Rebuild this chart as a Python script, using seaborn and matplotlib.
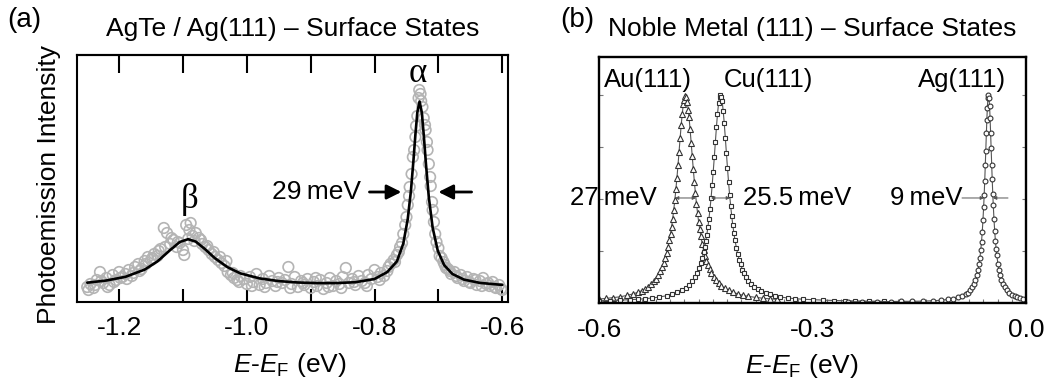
import matplotlib
matplotlib.use("Agg")
import matplotlib.pyplot as plt
from matplotlib.ticker import MultipleLocator
import seaborn as sns

# ---------------- Panel (a): AgTe / Ag(111) ----------------
a_energy = [
    -1.250, -1.245, -1.240, -1.235, -1.230, -1.225, -1.220, -1.215, -1.210, -1.205,
    -1.200, -1.195, -1.190, -1.185, -1.180, -1.175, -1.170, -1.165, -1.160, -1.155,
    -1.150, -1.145, -1.140, -1.135, -1.130, -1.125, -1.120, -1.115, -1.110, -1.105,
    -1.100, -1.095, -1.090, -1.085, -1.080, -1.075, -1.070, -1.065, -1.060, -1.055,
    -1.050, -1.045, -1.040, -1.035, -1.030, -1.025, -1.020, -1.015, -1.010, -1.005,
    -1.000, -0.995, -0.990, -0.985, -0.980, -0.975, -0.970, -0.965, -0.960, -0.955,
    -0.950, -0.945, -0.940, -0.935, -0.930, -0.925, -0.920, -0.915, -0.910, -0.905,
    -0.900, -0.895, -0.890, -0.885, -0.880, -0.875, -0.870, -0.865, -0.860, -0.855,
    -0.850, -0.845, -0.840, -0.835, -0.830, -0.825, -0.820, -0.815, -0.810, -0.805,
    -0.800, -0.795, -0.790, -0.785, -0.780, -0.775, -0.770, -0.765, -0.760, -0.755,
    -0.750, -0.745, -0.740, -0.735, -0.730, -0.725, -0.720, -0.715, -0.710, -0.705,
    -0.700, -0.695, -0.690, -0.685, -0.680, -0.675, -0.670, -0.665, -0.660, -0.655,
    -0.650, -0.645, -0.640, -0.635, -0.630, -0.625, -0.620, -0.615, -0.610, -0.605,
    -0.600,
    -1.248, -1.238, -1.228, -1.218, -1.208, -1.198, -1.188, -1.178, -1.168, -1.158,
    -1.148, -1.138, -1.128, -1.118, -1.108, -1.098, -1.092, -1.088, -1.082, -1.072,
    -1.062, -1.052, -1.042, -1.032, -1.022, -1.012, -0.992, -0.972, -0.952, -0.932,
    -0.912, -0.892, -0.872, -0.852, -0.832, -0.812, -0.792, -0.778, -0.768, -0.762,
    -0.757, -0.752, -0.748, -0.746, -0.742, -0.738, -0.736, -0.733, -0.731, -0.728,
    -0.727, -0.723, -0.721, -0.718, -0.717, -0.713, -0.712, -0.709, -0.707, -0.703,
    -0.698, -0.692, -0.688, -0.682, -0.672, -0.662, -0.652, -0.642, -0.632, -0.622,
    -0.612, -0.602,
]
a_intensity = [
    15, 18, 14, 22, 30, 19, 24, 17, 27, 22,
    30, 25, 28, 32, 26, 35, 38, 33, 41, 45,
    42, 48, 46, 53, 74, 69, 58, 62, 55, 59,
    52, 77, 72, 66, 69, 64, 58, 55, 52, 48,
    45, 42, 39, 36, 30, 27, 24, 22, 26, 23,
    18, 25, 20, 28, 17, 23, 19, 26, 21, 16,
    24, 19, 22, 35, 18, 25, 15, 21, 17, 23,
    14, 20, 16, 22, 13, 19, 24, 16, 21, 18,
    25, 34, 19, 23, 17, 26, 21, 19, 27, 23,
    32, 25, 29, 26, 31, 38, 42, 47, 55, 68,
    85, 115, 145, 176, 212, 195, 172, 138, 100, 68,
    54, 44, 37, 33, 28, 30, 24, 27, 21, 25,
    19, 23, 17, 21, 24, 18, 16, 20, 14, 17,
    12,
    12, 17, 21, 15, 20, 24, 23, 29, 31, 38,
    44, 51, 55, 64, 60, 47, 63, 79, 61, 62,
    56, 50, 45, 41, 29, 20, 16, 15, 20, 14,
    19, 24, 15, 14, 20, 16, 22, 35, 40, 50,
    59, 77, 97, 106, 128, 152, 165, 186, 204, 208,
    201, 184, 177, 160, 152, 125, 116, 92, 80, 60,
    46, 40, 34, 31, 26, 23, 20, 22, 16, 19,
    15, 13,
]
a_fit_energy = [
    -1.25, -1.22, -1.19, -1.16, -1.14, -1.12, -1.105, -1.092, -1.08, -1.065,
    -1.05, -1.03, -1.01, -0.98, -0.95, -0.92, -0.89, -0.86, -0.83, -0.80,
    -0.78, -0.765, -0.755, -0.748, -0.743, -0.739, -0.736, -0.733, -0.7295, -0.726,
    -0.723, -0.7195, -0.715, -0.709, -0.701, -0.691, -0.678, -0.66, -0.635, -0.60,
]
a_fit_intensity = [
    19.3, 21.5, 25.2, 32.4, 40.6, 52.0, 60.0, 62.8, 60.4, 52.6,
    43.8, 34.7, 28.6, 23.6, 20.9, 19.5, 18.9, 18.9, 19.8, 23.0,
    30.0, 40.6, 58.4, 83.0, 111.4, 142.2, 167.6, 189.6, 200.5, 189.6,
    167.5, 138.0, 104.7, 74.3, 51.3, 36.9, 28.0, 22.4, 19.1, 17.1,
]
a_xticks = [-1.2, -1.0, -0.8, -0.6]
a_xticklabels = ["-1.2", "-1.0", "-0.8", "-0.6"]
a_alltick = [-1.2, -1.1, -1.0, -0.9, -0.8, -0.7, -0.6]

# ---------------- Panel (b): noble metal (111) ----------------
au_energy = [
    -0.600, -0.590, -0.580, -0.570, -0.560, -0.552, -0.545, -0.540, -0.535, -0.531,
    -0.527, -0.523, -0.520, -0.517, -0.514, -0.511, -0.509, -0.507, -0.505, -0.503,
    -0.501, -0.4995, -0.498, -0.4965, -0.495, -0.4935, -0.492, -0.4905, -0.489, -0.4875,
    -0.486, -0.4845, -0.483, -0.4815, -0.4805, -0.479, -0.4775, -0.476, -0.4745, -0.4735,
    -0.472, -0.4705, -0.469, -0.4675, -0.466, -0.4645, -0.463, -0.4615, -0.460, -0.4585,
    -0.457, -0.455, -0.453, -0.451, -0.449, -0.447, -0.4445, -0.442, -0.439, -0.436,
    -0.432, -0.428, -0.423, -0.418, -0.412, -0.405, -0.398, -0.390, -0.380, -0.370,
    -0.360, -0.350,
]
au_intensity = [
    0.019, 0.022, 0.026, 0.030, 0.037, 0.044, 0.052, 0.059, 0.068, 0.078,
    0.089, 0.104, 0.117, 0.133, 0.152, 0.175, 0.193, 0.215, 0.241, 0.270,
    0.304, 0.334, 0.366, 0.404, 0.447, 0.493, 0.546, 0.602, 0.663, 0.728,
    0.793, 0.856, 0.911, 0.956, 0.977, 0.994, 0.990, 0.967, 0.928, 0.893,
    0.835, 0.771, 0.706, 0.643, 0.583, 0.528, 0.477, 0.432, 0.391, 0.355,
    0.323, 0.286, 0.254, 0.228, 0.204, 0.184, 0.163, 0.145, 0.127, 0.112,
    0.096, 0.083, 0.070, 0.061, 0.052, 0.044, 0.037, 0.032, 0.027, 0.023,
    0.020, 0.018,
]
cu_energy = [
    -0.600, -0.585, -0.570, -0.557, -0.545, -0.535, -0.525, -0.515, -0.505, -0.497,
    -0.490, -0.484, -0.478, -0.4735, -0.469, -0.4655, -0.462, -0.4595, -0.457, -0.455,
    -0.453, -0.4515, -0.450, -0.4485, -0.447, -0.4455, -0.444, -0.4425, -0.441, -0.4395,
    -0.438, -0.4365, -0.435, -0.4335, -0.432, -0.4305, -0.4295, -0.428, -0.427, -0.4255,
    -0.424, -0.4225, -0.421, -0.4195, -0.418, -0.4165, -0.415, -0.4135, -0.412, -0.4105,
    -0.409, -0.407, -0.405, -0.403, -0.401, -0.3985, -0.396, -0.393, -0.390, -0.386,
    -0.382, -0.377, -0.372, -0.366, -0.360, -0.353, -0.345, -0.335, -0.325, -0.313,
    -0.300, -0.285, -0.270, -0.255, -0.240, -0.220, -0.200,
]
cu_intensity = [
    0.011, 0.012, 0.014, 0.016, 0.018, 0.021, 0.024, 0.029, 0.035, 0.042,
    0.051, 0.061, 0.074, 0.088, 0.105, 0.123, 0.146, 0.166, 0.191, 0.215,
    0.243, 0.267, 0.296, 0.328, 0.364, 0.406, 0.453, 0.506, 0.566, 0.632,
    0.700, 0.774, 0.845, 0.909, 0.960, 0.992, 1.000, 0.990, 0.972, 0.924,
    0.864, 0.794, 0.722, 0.650, 0.583, 0.521, 0.467, 0.418, 0.375, 0.337,
    0.304, 0.266, 0.235, 0.208, 0.186, 0.161, 0.143, 0.123, 0.108, 0.091,
    0.078, 0.065, 0.056, 0.047, 0.041, 0.034, 0.029, 0.024, 0.021, 0.018,
    0.016, 0.014, 0.012, 0.011, 0.010, 0.009, 0.008,
]
ag_energy = [
    -0.250, -0.230, -0.210, -0.190, -0.175, -0.160, -0.145, -0.130, -0.120, -0.110,
    -0.102, -0.095, -0.090, -0.085, -0.0815, -0.078, -0.0755, -0.073, -0.071, -0.069,
    -0.0675, -0.066, -0.0648, -0.0635, -0.0625, -0.0615, -0.0605, -0.0595, -0.0588, -0.058,
    -0.0572, -0.0565, -0.0557, -0.055, -0.0543, -0.0535, -0.0527, -0.052, -0.0512, -0.0505,
    -0.0497, -0.049, -0.0482, -0.0475, -0.0467, -0.046, -0.045, -0.044, -0.043, -0.042,
    -0.041, -0.0395, -0.038, -0.0365, -0.0345, -0.0325, -0.030, -0.027, -0.0235, -0.020,
    -0.016, -0.012, -0.008, -0.004,
]
ag_intensity = [
    0.006, 0.006, 0.007, 0.007, 0.008, 0.008, 0.009, 0.011, 0.013, 0.017,
    0.021, 0.027, 0.033, 0.042, 0.050, 0.064, 0.076, 0.092, 0.110, 0.134,
    0.157, 0.186, 0.217, 0.257, 0.295, 0.341, 0.398, 0.463, 0.518, 0.586,
    0.664, 0.733, 0.816, 0.882, 0.940, 0.984, 1.000, 0.988, 0.946, 0.891,
    0.816, 0.745, 0.664, 0.596, 0.526, 0.471, 0.404, 0.346, 0.300, 0.261,
    0.229, 0.189, 0.159, 0.135, 0.111, 0.093, 0.076, 0.061, 0.049, 0.040,
    0.033, 0.028, 0.024, 0.021,
]
b_xticks = [-0.6, -0.3, 0.0]
b_xticklabels = ["-0.6", "-0.3", "0.0"]
b_yticks = [0.25, 0.5, 0.75, 1.0]

# ---------------- Style ----------------
sns.set_theme(style="white")
plt.rcParams["font.family"] = ["Liberation Sans", "DejaVu Sans"]
plt.rcParams["mathtext.fontset"] = "custom"
plt.rcParams["mathtext.rm"] = "Liberation Sans"
plt.rcParams["mathtext.it"] = "Liberation Sans:italic"
plt.rcParams["mathtext.bf"] = "Liberation Sans:bold"
plt.rcParams["axes.unicode_minus"] = False
plt.rcParams["text.color"] = "black"
plt.rcParams["axes.labelcolor"] = "black"
plt.rcParams["xtick.color"] = "black"
plt.rcParams["ytick.color"] = "black"

FS = 19
xlabel = r"$E$-$E_\mathrm{F}$ (eV)"

fig = plt.figure(figsize=(10.5, 3.85), dpi=100)
ax1 = fig.add_axes([77 / 1050, 83 / 385, 431 / 1050, 247 / 385])
ax2 = fig.add_axes([599 / 1050, 82 / 385, 427 / 1050, 246 / 385])

# ---- Panel (a)
sns.scatterplot(x=a_energy, y=a_intensity, ax=ax1, marker="o", s=58,
                facecolor="none", edgecolor="#b4b4b4", linewidth=1.2, zorder=2)
sns.lineplot(x=a_fit_energy, y=a_fit_intensity, ax=ax1, color="black", lw=1.9,
             sort=False, estimator=None, zorder=3)
ax1.set_xlim(-1.266, -0.591)
ax1.set_ylim(0, 247)
ax1.set_xticks(a_xticks)
ax1.set_xticklabels(a_xticklabels)
ax1.set_xticks([-1.1, -0.9, -0.7], minor=True)
ax1.set_yticks([])
ax1.tick_params(axis="x", which="both", direction="in", length=9.5, width=1.5,
                color="black", labelcolor="black", labelsize=FS, pad=10,
                bottom=True, top=False)
top = ax1.secondary_xaxis("top")
top.set_xticks(a_alltick)
top.set_xticklabels([])
top.tick_params(axis="x", direction="in", length=13, width=1.5, color="black")
top.spines["top"].set_linewidth(1.5)
top.spines["top"].set_color("black")
for sp in ax1.spines.values():
    sp.set_linewidth(1.5)
    sp.set_color("black")
ax1.set_ylabel("Photoemission Intensity", fontsize=FS, color="black")
ax1.yaxis.set_label_coords(-0.036, 0.474)
ax1.set_xlabel(xlabel, fontsize=FS, color="black")
ax1.xaxis.set_label_coords(0.494, -0.2)
ax1.set_title("AgTe / Ag(111) \u2013 Surface States", fontsize=FS, y=1.0, pad=14,
              color="black")

ax1.text(-0.7328, 229, "\u03b1", family=["Liberation Serif", "DejaVu Serif"],
         fontsize=25, ha="center", va="center", color="black")
ax1.text(-1.089, 102, "\u03b2", family=["Liberation Serif", "DejaVu Serif"],
         fontsize=25, ha="center", va="center", color="black")
ax1.text(-0.822, 110, "29\u2009meV", fontsize=FS, ha="right", va="center",
         color="black")
arrow_kw = dict(arrowstyle="-|>", lw=2, color="black", mutation_scale=22,
                shrinkA=0, shrinkB=0)
ax1.annotate("", xy=(-0.758, 110), xytext=(-0.808, 110), arrowprops=arrow_kw)
ax1.annotate("", xy=(-0.700, 110), xytext=(-0.648, 110), arrowprops=arrow_kw)

# ---- Panel (b)
line_kw = dict(color="#555555", lw=0.8, markerfacecolor="white",
               markeredgecolor="#333333", markeredgewidth=0.8,
               sort=False, estimator=None)
sns.lineplot(x=au_energy, y=au_intensity, ax=ax2, marker="^", markersize=4, **line_kw)
sns.lineplot(x=cu_energy, y=cu_intensity, ax=ax2, marker="s", markersize=3.5, **line_kw)
sns.lineplot(x=ag_energy, y=ag_intensity, ax=ax2, marker="o", markersize=3.5, **line_kw)
ax2.set_xlim(-0.6, 0.0)
ax2.set_ylim(0, 1.183)
ax2.set_xticks(b_xticks)
ax2.set_xticklabels(b_xticklabels)
ax2.xaxis.set_minor_locator(MultipleLocator(0.02))
ax2.set_yticks(b_yticks)
ax2.set_yticklabels([])
ax2.tick_params(axis="x", which="both", direction="in", length=3, width=0.8,
                color="#777777", labelcolor="black", labelsize=FS, pad=11,
                bottom=True, top=False)
ax2.tick_params(axis="y", which="both", direction="in", length=3, width=0.8,
                color="#777777", left=True, right=True)
for sp in ax2.spines.values():
    sp.set_linewidth(1.7)
    sp.set_color("black")
ax2.set_xlabel(xlabel, fontsize=FS, color="black")
ax2.xaxis.set_label_coords(0.475, -0.2)
ax2.set_title("Noble Metal (111) \u2013 Surface States", fontsize=FS, y=1.0, pad=15,
              color="black")

ax2.text(-0.5311, 1.072, "Au(111)", fontsize=18.5, ha="center", va="center")
ax2.text(-0.3625, 1.072, "Cu(111)", fontsize=18.5, ha="center", va="center")
ax2.text(-0.0899, 1.072, "Ag(111)", fontsize=18.5, ha="center", va="center")
ax2.text(-0.5195, 0.505, "27\u2009meV", fontsize=18.5, ha="right", va="center")
ax2.text(-0.3977, 0.505, "25.5\u2009meV", fontsize=18.5, ha="left", va="center")
ax2.text(-0.0899, 0.505, "9\u2009meV", fontsize=18.5, ha="right", va="center")
fw_kw = dict(arrowstyle="<|-|>", lw=0.7, color="#555555", mutation_scale=5,
             shrinkA=0, shrinkB=0)
ax2.annotate("", xy=(-0.4932, 0.505), xytext=(-0.4637, 0.505), arrowprops=fw_kw)
ax2.annotate("", xy=(-0.4426, 0.505), xytext=(-0.4159, 0.505), arrowprops=fw_kw)
one_kw = dict(arrowstyle="-|>", lw=0.7, color="#555555", mutation_scale=5,
              shrinkA=0, shrinkB=0)
ax2.annotate("", xy=(-0.0590, 0.505), xytext=(-0.0899, 0.505), arrowprops=one_kw)
ax2.annotate("", xy=(-0.0464, 0.505), xytext=(-0.0253, 0.505), arrowprops=one_kw)

fig.text(7 / 1050, 1 - 27 / 385, "(a)", fontsize=20, va="baseline", ha="left")
fig.text(560 / 1050, 1 - 27 / 385, "(b)", fontsize=20, va="baseline", ha="left")

fig.savefig("out.png", dpi=100)
